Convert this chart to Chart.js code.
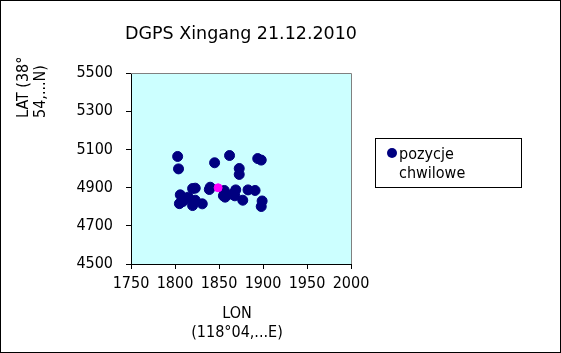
<!DOCTYPE html>
<html>
<head>
<meta charset="utf-8">
<script src="https://cdn.jsdelivr.net/npm/chart.js@4/dist/chart.umd.min.js"></script>
<style>
html,body{margin:0;padding:0;background:#fff;}
canvas{display:block;}
</style>
</head>
<body>
<canvas id="c" width="561" height="353"></canvas>
<script>
const chartTitle = "DGPS Xingang 21.12.2010";
const xTitleLines = ["LON", "(118°04,...E)"];
const yTitleLines = ["LAT (38°", "54,...N)"];
const seriesName = "pozycje chwilowe";
const legendLines = ["pozycje", "chwilowe"];

const lonValues = [1803,1804,1845,1862,1894,1898,1873,1873,1820,1823,1839,1840,1856,1857,1855,1869,1868,1865,1877,1883,1891,1899,1898,1806,1805,1809,1815,1820,1823,1831,1811];
const latValues = [5063,4998,5030,5068,5052,5044,5000,4969,4895,4897,4890,4902,4885,4850,4857,4888,4857,4865,4834,4888,4885,4830,4801,4862,4816,4827,4850,4806,4834,4815,4840];
const currentLon = [1849];
const currentLat = [4899];

const xMin = 1750, xMax = 2000, xStep = 50;
const yMin = 4500, yMax = 5500, yStep = 200;

const tickFont = "'Liberation Sans Narrow', 'DejaVu Sans Condensed', 'DejaVu Sans', sans-serif";
const textFont = "'DejaVu Sans', sans-serif";

const pts = lonValues.map((x, i) => ({x: x, y: latValues[i]}));
const cur = currentLon.map((x, i) => ({x: x, y: currentLat[i]}));

const decor = {
  id: 'decor',
  beforeDraw(chart) {
    const ctx = chart.ctx, a = chart.chartArea;
    ctx.save();
    ctx.fillStyle = '#ffffff';
    ctx.fillRect(0, 0, chart.width, chart.height);
    ctx.fillStyle = '#ccffff';
    ctx.fillRect(a.left, a.top, a.right - a.left, a.bottom - a.top);
    ctx.restore();
  },
  afterDraw(chart) {
    const ctx = chart.ctx, a = chart.chartArea;
    ctx.save();
    ctx.strokeStyle = '#808080';
    ctx.lineWidth = 1;
    ctx.beginPath();
    ctx.moveTo(a.left, a.top + 0.5);
    ctx.lineTo(a.right + 0.5, a.top + 0.5);
    ctx.lineTo(a.right + 0.5, a.bottom);
    ctx.stroke();
    ctx.strokeStyle = '#000';
    ctx.strokeRect(0.5, 0.5, chart.width - 1, chart.height - 1);
    ctx.fillStyle = '#000';
    ctx.font = "17.5px " + textFont;
    ctx.textAlign = 'center';
    ctx.textBaseline = 'alphabetic';
    ctx.fillText(chartTitle, (a.left + a.right) / 2, 39);
    ctx.font = "16px " + tickFont;
    ctx.fillText(xTitleLines[0], (a.left + a.right) / 2 - 4, 318);
    ctx.fillText(xTitleLines[1], (a.left + a.right) / 2 - 4, 337);
    ctx.save();
    ctx.rotate(-Math.PI / 2);
    ctx.textAlign = 'left';
    ctx.fillText(yTitleLines[0], -118, 28);
    ctx.fillText(yTitleLines[1], -118, 45);
    ctx.restore();
    ctx.strokeStyle = '#000';
    ctx.strokeRect(375.5, 138.5, 146, 49);
    ctx.fillStyle = '#000080';
    ctx.beginPath();
    ctx.arc(392, 153, 5, 0, Math.PI * 2);
    ctx.fill();
    ctx.fillStyle = '#000';
    ctx.textAlign = 'left';
    ctx.fillText(legendLines[0], 399, 159);
    ctx.fillText(legendLines[1], 399, 178);
    ctx.restore();
  }
};

new Chart(document.getElementById('c'), {
  type: 'scatter',
  data: {
    datasets: [
      { label: 'current', data: cur, backgroundColor: '#ff00ff', borderColor: '#ff00ff', pointRadius: 4, pointHoverRadius: 4 },
      { label: seriesName, data: pts, backgroundColor: '#000080', borderColor: '#000080', pointRadius: 5, pointHoverRadius: 5 }
    ]
  },
  options: {
    responsive: false,
    animation: false,
    devicePixelRatio: 1,
    layout: { padding: { left: 0, right: 210, top: 73, bottom: 0 } },
    plugins: { legend: { display: false }, title: { display: false }, tooltip: { enabled: false } },
    scales: {
      x: {
        type: 'linear', min: xMin, max: xMax,
        afterFit(s) { s.height = 89; },
        ticks: { stepSize: xStep, color: '#000', font: { family: tickFont, size: 16 }, padding: 5, maxRotation: 0, autoSkip: false, callback: v => String(v) },
        grid: { display: true, drawOnChartArea: false, drawTicks: true, tickLength: 5, color: '#000' },
        border: { display: true, color: '#000', width: 1 }
      },
      y: {
        type: 'linear', min: yMin, max: yMax,
        afterFit(s) { s.width = 131; },
        ticks: { stepSize: yStep, color: '#000', font: { family: tickFont, size: 16 }, padding: 13, callback: v => String(v) },
        grid: { display: true, drawOnChartArea: false, drawTicks: true, tickLength: 5, color: '#000' },
        border: { display: true, color: '#000', width: 1 }
      }
    }
  },
  plugins: [decor]
});
</script>
</body>
</html>
